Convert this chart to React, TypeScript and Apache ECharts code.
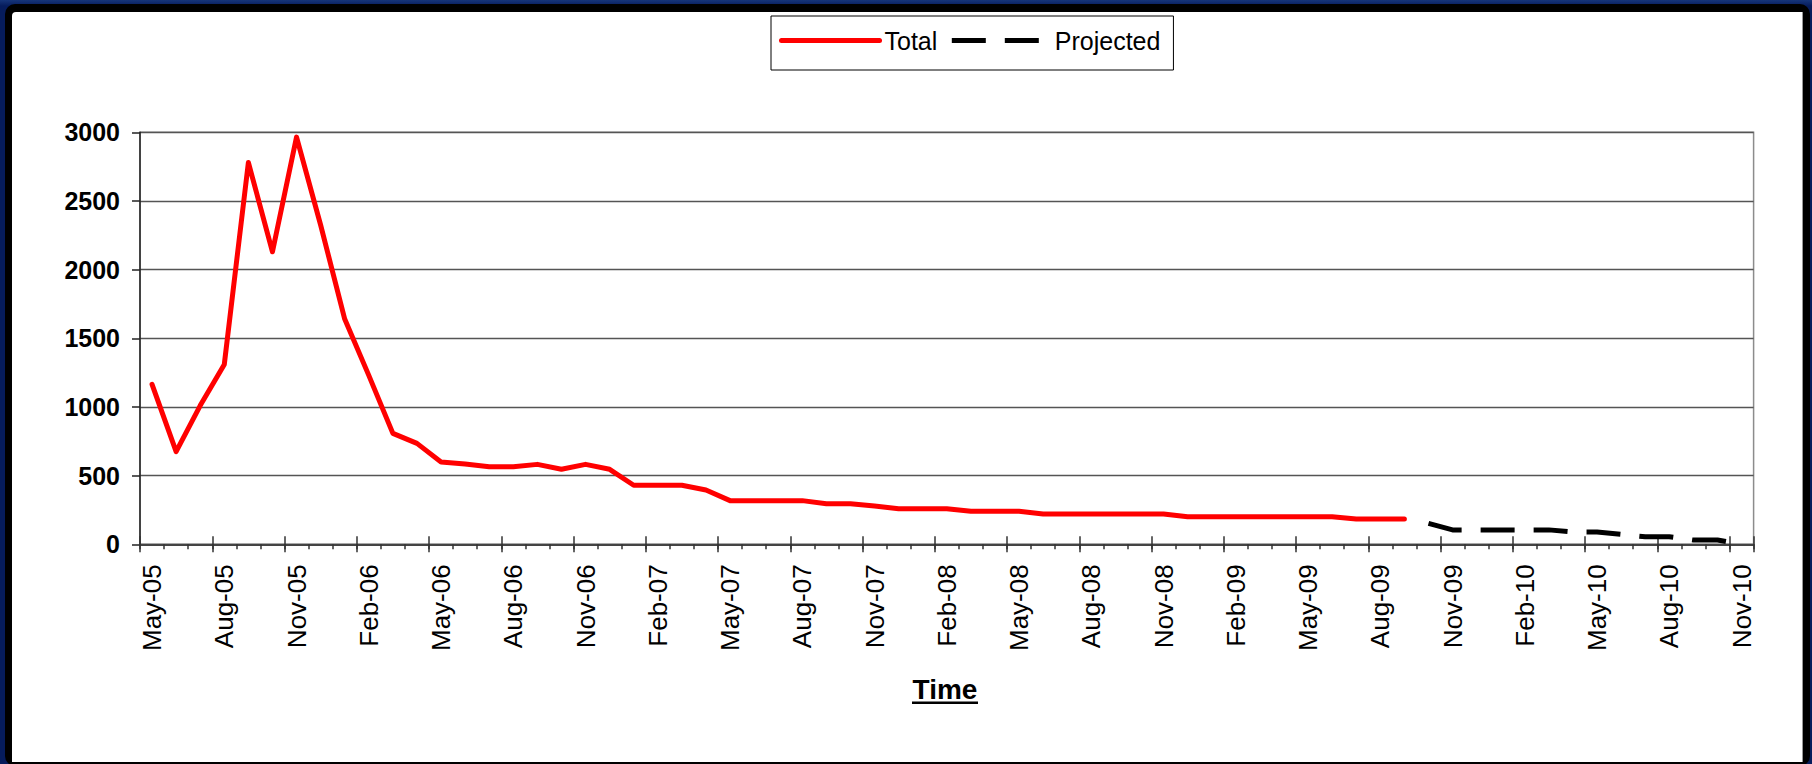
import React, { useEffect, useRef } from "react";
import * as echarts from "echarts";

const FONT = 'Arial, "Liberation Sans", Helvetica, sans-serif';

// Monthly categories, May-05 .. Nov-10
const categories: string[] = [
  "May-05", "Jun-05", "Jul-05", "Aug-05", "Sep-05", "Oct-05", "Nov-05", "Dec-05",
  "Jan-06", "Feb-06", "Mar-06", "Apr-06", "May-06", "Jun-06", "Jul-06", "Aug-06", "Sep-06", "Oct-06", "Nov-06", "Dec-06",
  "Jan-07", "Feb-07", "Mar-07", "Apr-07", "May-07", "Jun-07", "Jul-07", "Aug-07", "Sep-07", "Oct-07", "Nov-07", "Dec-07",
  "Jan-08", "Feb-08", "Mar-08", "Apr-08", "May-08", "Jun-08", "Jul-08", "Aug-08", "Sep-08", "Oct-08", "Nov-08", "Dec-08",
  "Jan-09", "Feb-09", "Mar-09", "Apr-09", "May-09", "Jun-09", "Jul-09", "Aug-09", "Sep-09", "Oct-09", "Nov-09", "Dec-09",
  "Jan-10", "Feb-10", "Mar-10", "Apr-10", "May-10", "Jun-10", "Jul-10", "Aug-10", "Sep-10", "Oct-10", "Nov-10",
];

// Total: May-05 .. Sep-09
const totalValues: number[] = [
  1165, 675, 1010, 1310, 2780, 2130, 2965, 2325, 1640, 1230,
  808, 735, 600, 585, 565, 565, 582, 546, 582, 546,
  430, 430, 430, 395, 318, 318, 318, 318, 296, 296,
  279, 259, 259, 259, 240, 240, 240, 221, 221, 221,
  221, 221, 221, 201, 201, 201, 201, 201, 201, 201,
  184, 184, 184,
];

// Projected: Oct-09 .. Nov-10
const projectedValues: number[] = [152, 105, 105, 105, 105, 105, 90, 90, 72, 55, 55, 31, 31, 0];

const yTicks = { min: 0, max: 3000, interval: 500 };

export default function App() {
  const ref = useRef<HTMLDivElement>(null);

  useEffect(() => {
    if (!ref.current) return;
    const chart = echarts.init(ref.current, undefined, { renderer: "svg" });

    const projectedData: (number | null)[] = (new Array(totalValues.length).fill(null) as (number | null)[]).concat(projectedValues);

    const xBase = {
      type: "category" as const,
      data: categories,
      boundaryGap: true,
      position: "bottom" as const,
      gridIndex: 0,
      splitLine: { show: false },
    };

    const tickStyle = { color: "#333", width: 1.5 };

    chart.setOption({
      animation: false,
      backgroundColor: "transparent",
      textStyle: { fontFamily: FONT },
      legend: {
        data: ["Total", "Projected"],
        left: 771,
        top: 16,
        padding: [12, 13, 17, 8],
        itemWidth: 98,
        itemHeight: 14,
        itemGap: 12,
        backgroundColor: "#fff",
        borderColor: "#000",
        borderWidth: 1,
        lineStyle: { width: 5 },
        itemStyle: { opacity: 0, borderWidth: 0 },
        textStyle: { fontSize: 25, color: "#000", fontFamily: FONT },
      },
      grid: {
        left: 140,
        top: 132.3,
        width: 1613.6,
        height: 412,
        show: true,
        borderColor: "#8c8c8c",
        borderWidth: 1.5,
        backgroundColor: "transparent",
      },
      xAxis: [
        {
          ...xBase,
          axisLine: { show: true, onZero: false, lineStyle: { color: "#444", width: 2 } },
          axisTick: { show: true, interval: 0, length: 5, lineStyle: tickStyle },
          axisLabel: { interval: 2, rotate: 90, fontSize: 26, color: "#000", margin: 20, fontFamily: FONT },
        },
        {
          ...xBase,
          axisLine: { show: false },
          axisTick: { show: true, interval: 2, length: 8, lineStyle: tickStyle },
          axisLabel: { show: false },
        },
        {
          ...xBase,
          axisLine: { show: false },
          axisTick: { show: true, interval: 2, inside: true, length: 8, lineStyle: tickStyle },
          axisLabel: { show: false },
        },
      ],
      yAxis: {
        type: "value",
        min: yTicks.min,
        max: yTicks.max,
        interval: yTicks.interval,
        axisLine: { show: true, lineStyle: { color: "#222", width: 1.5 } },
        axisTick: { show: true, length: 8, lineStyle: { color: "#222", width: 1.5 } },
        axisLabel: {
          fontSize: 25,
          fontWeight: "bold",
          color: "#000",
          margin: 20,
          fontFamily: FONT,
          formatter: (v: number) => String(v),
        },
        splitLine: { show: true, lineStyle: { color: "#555", width: 1.3 } },
      },
      series: [
        {
          name: "Total",
          type: "line",
          data: totalValues,
          symbol: "none",
          lineStyle: { color: "#ff0000", width: 5, cap: "round", join: "round" },
          itemStyle: { color: "#ff0000" },
          z: 3,
        },
        {
          name: "Projected",
          type: "line",
          data: projectedData,
          symbol: "none",
          lineStyle: { color: "#000", width: 5, type: [34, 19], cap: "butt" },
          itemStyle: { color: "#000" },
          z: 3,
        },
      ],
      graphic: [
        {
          type: "text",
          x: 945,
          y: 689,
          style: {
            text: "Time",
            fontSize: 28,
            fontWeight: "bold",
            fontFamily: FONT,
            fill: "#000",
            align: "center",
            verticalAlign: "middle",
          },
        },
        {
          type: "rect",
          shape: { x: 912, y: 701.5, width: 66, height: 2.5 },
          style: { fill: "#000" },
        },
      ],
    });

    return () => chart.dispose();
  }, []);

  return (
    <div style={{ position: "fixed", left: 0, top: 0, width: 1812, height: 764, background: "linear-gradient(#16357a, #061c5c 6px)", overflow: "hidden" }}>
      <div style={{ position: "absolute", left: 5, top: 4, width: 1805, height: 762, background: "#000", borderRadius: 10 }} />
      <div style={{ position: "absolute", left: 12, top: 12, width: 1790, height: 750, background: "#fff", borderRight: "1px solid #999", borderTopLeftRadius: 4 }} />
      <div ref={ref} style={{ position: "absolute", left: 0, top: 0, width: 1812, height: 764 }} />
    </div>
  );
}
